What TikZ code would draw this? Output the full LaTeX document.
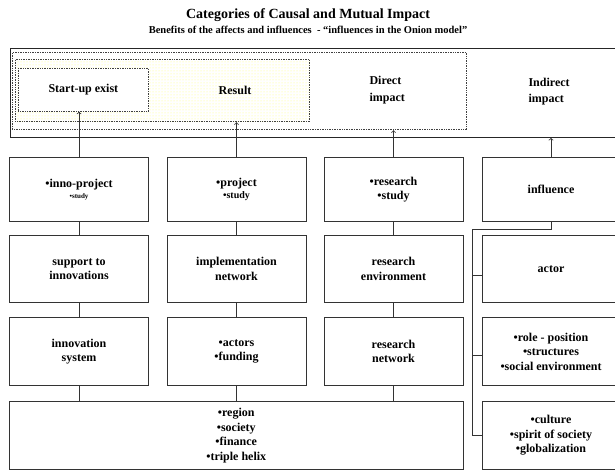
\documentclass[tikz,border=0pt]{standalone}
\usepackage{fontspec}
\setmainfont{Liberation Serif}
\usetikzlibrary{arrows}
\usetikzlibrary{patterns}

\tikzset{
  cell/.style={draw=black!80, line width=0.8pt, minimum width=139pt, inner sep=2pt,
    align=center, font=\bfseries\fontsize{12}{14.5}\selectfont},
  ring/.style={draw=black!75, densely dotted, line width=0.7pt, inner sep=0pt, anchor=north west},
  lbl/.style={align=left, font=\bfseries\fontsize{12}{16.5}\selectfont},
  link/.style={draw=black!80, line width=0.8pt},
}

\begin{document}
\begin{tikzpicture}[x=1pt, y=-1pt]
  \useasboundingbox (0,0) rectangle (615,470);

  % titles
  \node[font=\bfseries\fontsize{14}{16}\selectfont] (title) at (308,15) {Categories of Causal and Mutual Impact};
  \node[font=\bfseries\fontsize{10.5}{12}\selectfont] (subtitle) at (308,30) {Benefits of the affects and influences \ - “influences in the Onion model”};

  % onion rings
  \node[draw=black!85, line width=0.9pt, inner sep=0pt, anchor=north west,
    minimum width=610.5pt, minimum height=88.5pt] (indirect) at (9.5,48.5) {};
  \node[ring, minimum width=454pt, minimum height=77.5pt] (direct) at (12,52) {};
  \node[ring, pattern=dots, pattern color=yellow!55, minimum width=294pt, minimum height=62.5pt] (result) at (15,59) {};
  \node[ring, fill=white, minimum width=130pt, minimum height=43pt,
    font=\bfseries\fontsize{12}{14.5}\selectfont] (startup) at (18,68) {Start-up exist};
  \node[lbl] (resultlbl) at (235,90) {Result};
  \node[lbl, anchor=west] (directlbl) at (366,90) {Direct\\impact};
  \node[lbl, anchor=west] (indirectlbl) at (525,91.5) {Indirect\\impact};

  % first row
  \node[cell, minimum height=64pt] (inno) at (79,189.5) {•inno-project\\[-3pt]{\fontsize{7}{8}\selectfont •study}};
  \node[cell, minimum height=64pt] (project) at (236.5,189.5) {•project\\[-2pt]{\fontsize{10}{11}\selectfont •study}};
  \node[cell, minimum height=64pt] (research) at (393.5,189.5) {•research\\•study};
  \node[cell, minimum height=64pt, minimum width=138pt] (infl) at (551,189.5) {influence};

  % second row
  \node[cell, minimum height=66.5pt] (support) at (79,269) {support to\\innovations};
  \node[cell, minimum height=66.5pt] (implement) at (236.5,269) {implementation\\network};
  \node[cell, minimum height=66.5pt] (environ) at (393.5,269) {research\\environment};
  \node[cell, minimum height=66.5pt, minimum width=138pt] (actor) at (551,269) {actor};

  % third row
  \node[cell, minimum height=68pt] (system) at (79,351.5) {innovation\\system};
  \node[cell, minimum height=68pt] (funding) at (236.5,351.5) {•actors\\•funding};
  \node[cell, minimum height=68pt] (network) at (393.5,351.5) {research\\network};
  \node[cell, minimum height=68pt, minimum width=138pt] (role) at (551,351.5) {•role - position\\•structures\\•social environment};

  % fourth row
  \node[cell, minimum height=67.5pt, minimum width=453.5pt] (region) at (236.25,435.5) {•region\\•society\\•finance\\•triple helix};
  \node[cell, minimum height=67.5pt, minimum width=138pt] (culture) at (551,435.5) {•culture\\•spirit of society\\•globalization};

  % impact arrows
  \draw[link,->] (inno.north) -- (inno.north |- startup.south);
  \draw[link,->] (project.north) -- (project.north |- result.south);
  \draw[link,->] (research.north) -- (research.north |- direct.south);
  \draw[link,->] (infl.north) -- (infl.north |- indirect.south);

  % columns
  \draw[link] (inno) -- (support) -- (system) -- (system |- region.north);
  \draw[link] (project) -- (implement) -- (funding) -- (funding |- region.north);
  \draw[link] (research) -- (environ) -- (network) -- (network |- region.north);

  % influence bracket
  \coordinate (spine) at (472,229);
  \coordinate (actorin) at ([yshift=-6pt]actor.west);
  \coordinate (rolein) at ([yshift=-4pt]role.west);
  \draw[link] (infl.south) |- (spine) -- (spine |- culture.west) -- (culture.west);
  \draw[link] (spine |- actorin) -- (actorin);
  \draw[link] (spine |- rolein) -- (rolein);
\end{tikzpicture}
\end{document}
